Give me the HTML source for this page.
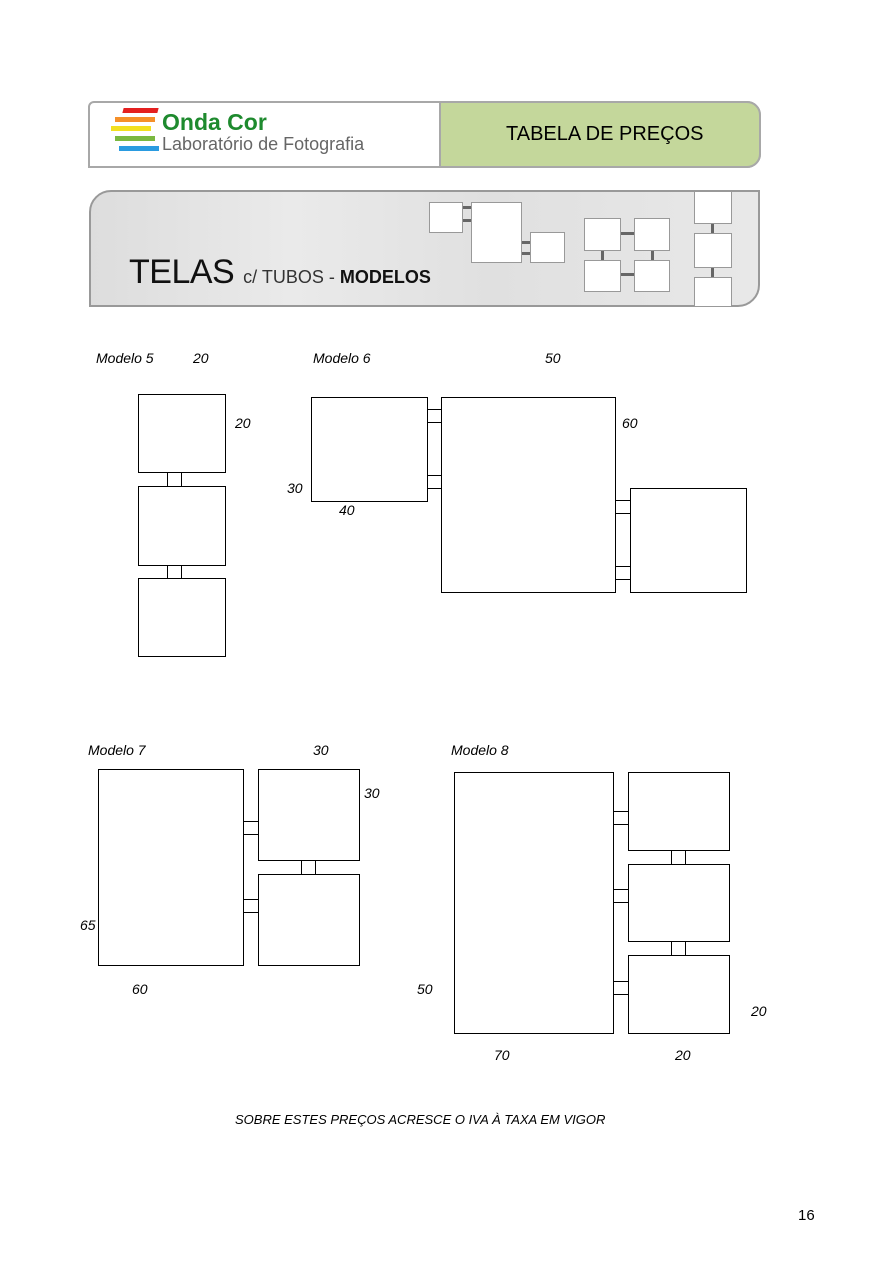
<!DOCTYPE html>
<html><head><meta charset="utf-8"><style>
body{margin:0;width:892px;height:1262px;background:#fff;position:relative;overflow:hidden;font-family:"Liberation Sans",sans-serif}
.a{position:absolute;box-sizing:border-box}
.b{position:absolute;box-sizing:border-box;border:1px solid #000;background:#fff}
.t{position:absolute;font-style:italic;font-size:14px;color:#000;white-space:nowrap}
.m{position:absolute;box-sizing:border-box;border:1px solid #999;background:#fff}
.c{position:absolute;background:#666}
</style></head><body>
<div class="a" style="left:88px;top:101px;width:673px;height:67px;border:2px solid #a8a8a8;border-radius:6px 14px 14px 0;background:#fff"></div>
<div class="a" style="left:439px;top:101px;width:322px;height:67px;border:2px solid #a8a8a8;border-radius:0 14px 14px 0;background:#c4d79b"></div>
<div class="a" style="left:123px;top:108px;width:35px;height:5px;background:#e42020;transform:skewX(-15deg)"></div>
<div class="a" style="left:115px;top:117px;width:40px;height:5px;background:#f5902a"></div>
<div class="a" style="left:111px;top:126px;width:40px;height:5px;background:#f2e020"></div>
<div class="a" style="left:115px;top:136px;width:40px;height:5px;background:#7ab840"></div>
<div class="a" style="left:119px;top:146px;width:40px;height:5px;background:#2a9be0"></div>
<div class="a" style="left:162px;top:109px;font-size:23px;color:#1e8a2e;font-weight:bold">Onda Cor</div>
<div class="a" style="left:162px;top:134px;font-size:18px;color:#666">Laboratório de Fotografia</div>
<div class="a" style="left:506px;top:123px;font-size:20px;color:#000">TABELA DE PREÇOS</div>
<div class="a" style="left:89px;top:190px;width:671px;height:117px;border:2px solid #999;border-radius:22px 0 22px 0;background:linear-gradient(90deg,#ddd,#eaeaea 30%,#e0e0e0 60%,#e8e8e8)"></div>
<div class="a" style="left:129px;top:253px;font-size:34px;color:#111;letter-spacing:-0.5px">TELAS <span style="font-size:18px;color:#333;letter-spacing:0">c/ TUBOS - </span><span style="font-size:18px;font-weight:bold;letter-spacing:0">MODELOS</span></div>
<div class="m" style="left:429px;top:202px;width:34px;height:31px"></div>
<div class="m" style="left:471px;top:202px;width:51px;height:61px"></div>
<div class="m" style="left:530px;top:232px;width:35px;height:31px"></div>
<div class="c" style="left:463px;top:206px;width:8px;height:3px"></div>
<div class="c" style="left:463px;top:219px;width:8px;height:3px"></div>
<div class="c" style="left:522px;top:241px;width:8px;height:3px"></div>
<div class="c" style="left:522px;top:252px;width:8px;height:3px"></div>
<div class="m" style="left:584px;top:218px;width:37px;height:33px"></div>
<div class="m" style="left:634px;top:218px;width:36px;height:33px"></div>
<div class="m" style="left:584px;top:260px;width:37px;height:32px"></div>
<div class="m" style="left:634px;top:260px;width:36px;height:32px"></div>
<div class="c" style="left:621px;top:232px;width:13px;height:3px"></div>
<div class="c" style="left:621px;top:273px;width:13px;height:3px"></div>
<div class="c" style="left:601px;top:251px;width:3px;height:9px"></div>
<div class="c" style="left:651px;top:251px;width:3px;height:9px"></div>
<div class="m" style="left:694px;top:191px;width:38px;height:33px"></div>
<div class="m" style="left:694px;top:233px;width:38px;height:35px"></div>
<div class="m" style="left:694px;top:277px;width:38px;height:30px"></div>
<div class="c" style="left:711px;top:224px;width:3px;height:9px"></div>
<div class="c" style="left:711px;top:268px;width:3px;height:9px"></div>

<div class="t" style="left:96px;top:350px">Modelo 5</div>
<div class="t" style="left:193px;top:350px">20</div>
<div class="t" style="left:235px;top:415px">20</div>
<div class="b" style="left:138px;top:394px;width:88px;height:79px"></div>
<div class="b" style="left:138px;top:486px;width:88px;height:80px"></div>
<div class="b" style="left:138px;top:578px;width:88px;height:79px"></div>
<div class="b" style="left:167px;top:472px;width:15px;height:15px"></div>
<div class="b" style="left:167px;top:565px;width:15px;height:14px"></div>

<div class="t" style="left:313px;top:350px">Modelo 6</div>
<div class="t" style="left:545px;top:350px">50</div>
<div class="t" style="left:622px;top:415px">60</div>
<div class="t" style="left:287px;top:480px">30</div>
<div class="t" style="left:339px;top:502px">40</div>
<div class="b" style="left:311px;top:397px;width:117px;height:105px"></div>
<div class="b" style="left:441px;top:397px;width:175px;height:196px"></div>
<div class="b" style="left:630px;top:488px;width:117px;height:105px"></div>
<div class="b" style="left:427px;top:409px;width:15px;height:14px"></div>
<div class="b" style="left:427px;top:475px;width:15px;height:14px"></div>
<div class="b" style="left:615px;top:500px;width:16px;height:14px"></div>
<div class="b" style="left:615px;top:566px;width:16px;height:14px"></div>

<div class="t" style="left:88px;top:742px">Modelo 7</div>
<div class="t" style="left:313px;top:742px">30</div>
<div class="t" style="left:364px;top:785px">30</div>
<div class="t" style="left:80px;top:917px">65</div>
<div class="t" style="left:132px;top:981px">60</div>
<div class="b" style="left:98px;top:769px;width:146px;height:197px"></div>
<div class="b" style="left:258px;top:769px;width:102px;height:92px"></div>
<div class="b" style="left:258px;top:874px;width:102px;height:92px"></div>
<div class="b" style="left:243px;top:821px;width:16px;height:14px"></div>
<div class="b" style="left:243px;top:899px;width:16px;height:14px"></div>
<div class="b" style="left:301px;top:860px;width:15px;height:15px"></div>

<div class="t" style="left:451px;top:742px">Modelo 8</div>
<div class="t" style="left:417px;top:981px">50</div>
<div class="t" style="left:751px;top:1003px">20</div>
<div class="t" style="left:494px;top:1047px">70</div>
<div class="t" style="left:675px;top:1047px">20</div>
<div class="b" style="left:454px;top:772px;width:160px;height:262px"></div>
<div class="b" style="left:628px;top:772px;width:102px;height:79px"></div>
<div class="b" style="left:628px;top:864px;width:102px;height:78px"></div>
<div class="b" style="left:628px;top:955px;width:102px;height:79px"></div>
<div class="b" style="left:613px;top:811px;width:16px;height:14px"></div>
<div class="b" style="left:613px;top:889px;width:16px;height:14px"></div>
<div class="b" style="left:613px;top:981px;width:16px;height:14px"></div>
<div class="b" style="left:671px;top:850px;width:15px;height:15px"></div>
<div class="b" style="left:671px;top:941px;width:15px;height:15px"></div>

<div class="t" style="left:235px;top:1112px;font-size:13px">SOBRE ESTES PREÇOS ACRESCE O IVA À TAXA EM VIGOR</div>
<div class="a" style="left:798px;top:1207px;font-size:15px">16</div>
</body></html>
